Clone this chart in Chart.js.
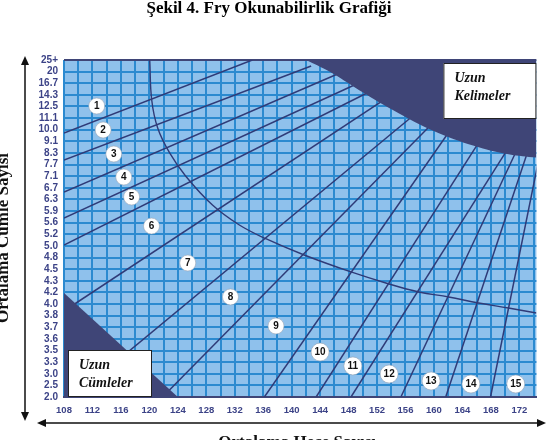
<!DOCTYPE html>
<html>
<head>
<meta charset="utf-8">
<script src="https://cdn.jsdelivr.net/npm/chart.js@4.4.0/dist/chart.umd.min.js"></script>
<style>
  html, body { margin: 0; padding: 0; background: #fff; }
  #wrap { width: 546px; height: 440px; }
</style>
</head>
<body>
<div id="wrap"><canvas id="fry" width="546" height="440"></canvas></div>
<script>
// y axis: sentences per 100 words, one row per label (bottom -> top)
const yLabels = ['2.0', '2.5', '3.0', '3.3', '3.5', '3.6', '3.7', '3.8', '4.0', '4.2',
  '4.3', '4.5', '4.8', '5.0', '5.2', '5.6', '5.9', '6.3', '6.7', '7.1',
  '7.7', '8.3', '9.1', '10.0', '11.1', '12.5', '14.3', '16.7', '20', '25+'];
// x axis: syllables per 100 words
const xLabels = [108, 112, 116, 120, 124, 128, 132, 136, 140, 144, 148, 152, 156, 160, 164, 168, 172];

// grade boundary lines, [x, row] pairs
const gradeLines = [
  [[108, 22.72], [134.47, 29.0]],
  [[108, 20.39], [142.74, 28.48]],
  [[108, 17.64], [148.0, 28.2]],
  [[108, 15.40], [151.5, 27.6]],
  [[108, 13.08], [155.07, 27.54]],
  [[108, 7.40], [157.87, 27.54]],
  [[108, -0.69], [157.87, 24.61]],
  [[120.05, -1.12], [160.67, 24.09]],
  [[136.16, 0], [163.47, 24.01]],
  [[143.44, 0], [167.67, 23.23]],
  [[148.34, 0], [170.47, 21.43]],
  [[155.35, 0], [172.57, 22.46]],
  [[161.65, 0], [173.97, 22.56]],
  [[167.95, 0], [175.37, 22.37]]
];

// grade numbers and where they sit
const gradeNames = ['1', '2', '3', '4', '5', '6', '7', '8', '9', '10', '11', '12', '13', '14', '15'];
const gradeX = [112.6, 113.5, 115.0, 116.4, 117.5, 120.3, 125.4, 131.4, 137.8, 144.0, 148.6, 153.7, 159.6, 165.2, 171.5];
const gradeY = [25.04, 22.98, 20.91, 18.93, 17.21, 14.71, 11.53, 8.61, 6.11, 3.87, 2.67, 1.98, 1.38, 1.12, 1.12];

// the thin curve crossing the grade lines
const curve = [[120.05, 29.0], [120.33, 25.56], [121.17, 23.15], [122.85, 21.0], [125.09, 19.02],
  [128.87, 16.52], [132.65, 14.8], [136.44, 13.6], [141.76, 12.22], [148.34, 10.76],
  [153.24, 9.81], [157.87, 9.04], [162.07, 8.61], [166.27, 8.09], [170.47, 7.66], [174.4, 7.23]];

// invalid zones
const longWords = [[142.0, 29.0], [145.3, 28.0], [149.5, 26.4], [155.1, 24.4], [160.7, 22.7],
  [166.3, 21.5], [170.5, 20.9], [174.4, 20.6]];
const longSentences = [[108, 8.95], [124, 0]];

const NAVY = '#2f3b78';
const DARK = '#3f4577';
const GRID = '#2b8ad0';
const CELL = '#8fc1ec';
const TICK = '#3c4387';

const pts = arr => arr.map(([x, y]) => ({ x, y }));

const datasets = [];
datasets.push({
  data: gradeX.map((x, i) => ({ x, y: gradeY[i] })),
  showLine: false,
  pointStyle: 'circle',
  pointRadius: gradeNames.map(t => t.length > 1 ? 9 : 8),
  pointBackgroundColor: '#ffffff',
  pointBorderColor: '#9aa4b4',
  pointBorderWidth: 0.6,
  order: -1
});
datasets.push({
  data: pts(longWords), showLine: true, tension: 0.4, pointRadius: 0,
  borderWidth: 0, borderColor: DARK, backgroundColor: DARK, fill: 'end', order: 0
});
datasets.push({
  data: pts(longSentences), showLine: true, pointRadius: 0,
  borderWidth: 0, borderColor: DARK, backgroundColor: DARK, fill: 'start', order: 0
});
datasets.push({
  data: pts(curve), showLine: true, tension: 0.4, pointRadius: 0,
  borderWidth: 1.4, borderColor: NAVY, fill: false, order: 2
});
gradeLines.forEach(line => {
  datasets.push({
    data: pts(line), showLine: true, pointRadius: 0,
    borderWidth: 1.5, borderColor: NAVY, fill: false, order: 2
  });
});

function arrowHead(ctx, x, y, dir) {
  ctx.beginPath();
  if (dir === 'up') { ctx.moveTo(x, y); ctx.lineTo(x - 4, y + 9); ctx.lineTo(x + 4, y + 9); }
  if (dir === 'down') { ctx.moveTo(x, y); ctx.lineTo(x - 4, y - 9); ctx.lineTo(x + 4, y - 9); }
  if (dir === 'left') { ctx.moveTo(x, y); ctx.lineTo(x + 9, y - 4); ctx.lineTo(x + 9, y + 4); }
  if (dir === 'right') { ctx.moveTo(x, y); ctx.lineTo(x - 9, y - 4); ctx.lineTo(x - 9, y + 4); }
  ctx.closePath();
  ctx.fill();
}

function noteBox(ctx, x, y, w, h, lines) {
  ctx.fillStyle = '#ffffff';
  ctx.fillRect(x, y, w, h);
  ctx.strokeStyle = '#222';
  ctx.lineWidth = 1;
  ctx.strokeRect(x + 0.5, y + 0.5, w - 1, h - 1);
  ctx.fillStyle = '#111';
  ctx.font = 'italic bold 14px "Liberation Serif", "DejaVu Serif", serif';
  ctx.textAlign = 'left';
  ctx.textBaseline = 'alphabetic';
  lines.forEach((t, i) => ctx.fillText(t, x + 11, y + 19 + i * 18));
}

const fryDecor = {
  id: 'fryDecor',
  beforeDraw(chart) {
    const { ctx, chartArea: a } = chart;
    ctx.save();
    ctx.fillStyle = '#ffffff';
    ctx.fillRect(0, 0, chart.width, chart.height);
    ctx.fillStyle = CELL;
    ctx.fillRect(a.left, a.top, a.right - a.left, a.bottom - a.top);
    ctx.restore();
  },
  afterDatasetsDraw(chart) {
    const { ctx, chartArea: a, scales } = chart;
    ctx.save();
    // grade numbers
    ctx.fillStyle = '#111';
    ctx.font = 'bold 10px "Liberation Sans", Arial, sans-serif';
    ctx.textAlign = 'center';
    ctx.textBaseline = 'middle';
    gradeNames.forEach((t, i) => {
      ctx.fillText(t, scales.x.getPixelForValue(gradeX[i]), scales.y.getPixelForValue(gradeY[i]) + 0.5);
    });
    noteBox(ctx, a.right - 93, a.top + 3, 93, 56, ['Uzun', 'Kelimeler']);
    noteBox(ctx, a.left + 4, a.bottom - 47, 84, 47, ['Uzun', 'Cümleler']);
    ctx.restore();
  },
  afterDraw(chart) {
    const { ctx, chartArea: a } = chart;
    ctx.save();
    ctx.strokeStyle = '#111';
    ctx.fillStyle = '#111';
    ctx.lineWidth = 1.5;
    // axis arrows
    ctx.beginPath();
    ctx.moveTo(25, 60); ctx.lineTo(25, 418);
    ctx.moveTo(40, 423); ctx.lineTo(543, 423);
    ctx.stroke();
    arrowHead(ctx, 25, 56, 'up');
    arrowHead(ctx, 25, 421, 'down');
    arrowHead(ctx, 37, 423, 'left');
    arrowHead(ctx, 546, 423, 'right');
    // axis titles
    ctx.font = 'bold 17px "Liberation Serif", "DejaVu Serif", serif';
    ctx.textAlign = 'center';
    ctx.textBaseline = 'middle';
    ctx.fillText('Ortalama Hece Sayısı', (a.left + a.right) / 2 - 3, 443);
    ctx.translate(4, 238);
    ctx.rotate(-Math.PI / 2);
    ctx.fillText('Ortalama Cümle Sayısı', 0, 0);
    ctx.restore();
  }
};

new Chart(document.getElementById('fry'), {
  type: 'scatter',
  data: { datasets },
  plugins: [fryDecor],
  options: {
    responsive: false,
    animation: false,
    layout: { padding: { left: 0, right: 8, top: 0, bottom: 0 } },
    plugins: {
      legend: { display: false },
      tooltip: { enabled: false },
      title: {
        display: true,
        text: 'Şekil 4. Fry Okunabilirlik Grafiği',
        color: '#000',
        font: { family: '"Liberation Serif", "DejaVu Serif", serif', size: 17, weight: 'bold', lineHeight: 1 },
        padding: { top: 0, bottom: 43 }
      }
    },
    scales: {
      x: {
        type: 'linear',
        min: 108,
        max: 174.4,
        afterFit: s => { s.height = 43; },
        grid: { color: GRID, lineWidth: 2, drawTicks: false },
        border: { display: true, color: DARK, width: 2 },
        ticks: {
          stepSize: 2,
          includeBounds: false,
          autoSkip: false,
          maxRotation: 0,
          padding: 8,
          color: TICK,
          font: { family: '"Liberation Sans", Arial, sans-serif', size: 9.5, weight: 'bold' },
          callback: v => xLabels.includes(v) ? String(v) : ''
        }
      },
      y: {
        type: 'linear',
        min: 0,
        max: yLabels.length - 1,
        afterFit: s => { s.width = 64; },
        grid: {
          lineWidth: 2,
          drawTicks: false,
          color: c => (c.tick.value === 0 || c.tick.value === yLabels.length - 1) ? DARK : GRID
        },
        border: { display: false },
        ticks: {
          stepSize: 1,
          autoSkip: false,
          padding: 6,
          color: TICK,
          font: { family: '"Liberation Sans", Arial, sans-serif', size: 10, weight: 'bold' },
          callback: v => yLabels[Math.round(v)]
        }
      }
    }
  }
});
</script>
</body>
</html>
